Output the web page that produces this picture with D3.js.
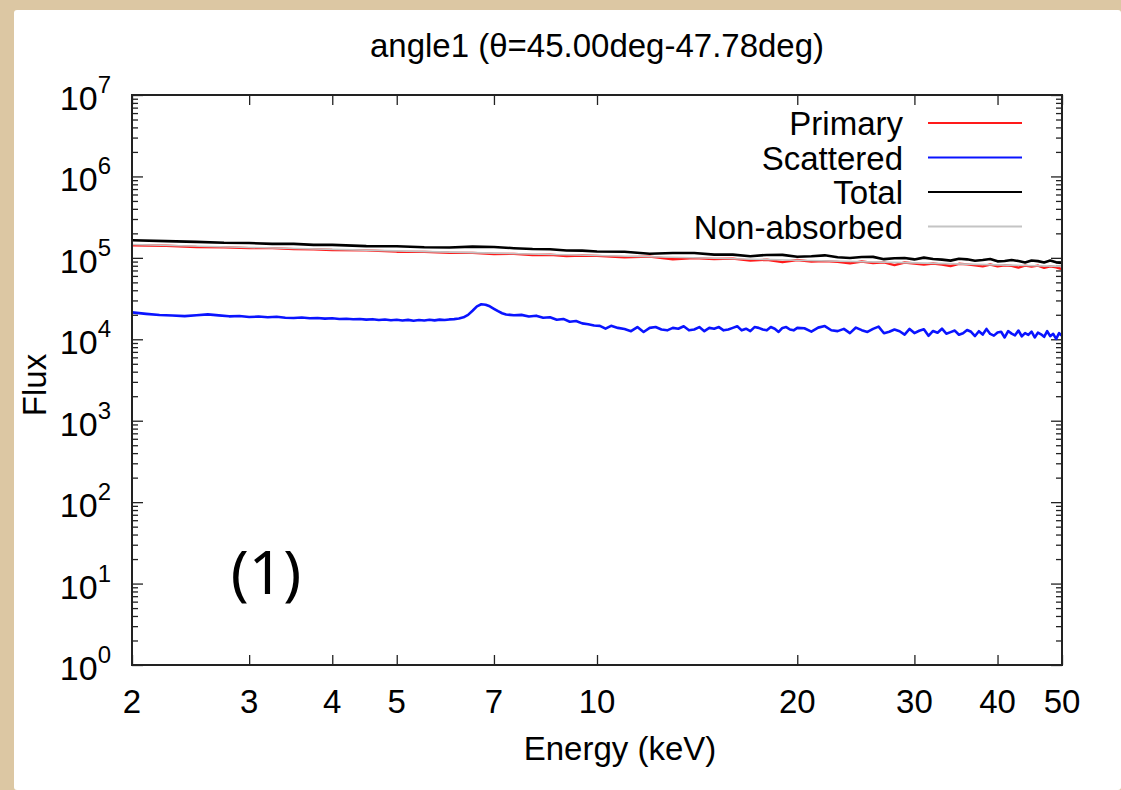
<!DOCTYPE html>
<html lang="en">
<head>
  <meta charset="UTF-8">
  <title>angle1</title>
  <style>
    body {
      margin: 0;
      padding: 0;
      background-color: #dcc7a3;
    }
    svg {
      display: block;
    }
    text {
      font-family: "Liberation Sans", Arial, Helvetica, sans-serif;
      fill: #000;
    }
  </style>
</head>
<body>
  <svg id="chart" width="1121" height="790"></svg>
  <script src="https://d3js.org/d3.v7.min.js"></script>
  <script>
    // tick values
    const xTickValues = [2, 3, 4, 5, 7, 10, 20, 30, 40, 50];
    const yExponents = [0, 1, 2, 3, 4, 5, 6, 7];

    const seriesNames = ['Primary', 'Scattered', 'Total', 'Non-absorbed'];
    const seriesColors = ['#ff1a1a', '#0a14ff', '#000000', '#c4c4c4'];

    // [energy keV, flux]
    const primary = [
      [2.0, 142900], [2.25, 140600], [2.5, 136100], [2.75, 135200], [3.0, 131800],
      [3.25, 131500], [3.5, 127900], [3.75, 127600], [4.0, 124700], [4.5, 123600],
      [5.0, 119100], [5.5, 118600], [6.0, 115300], [6.5, 115100], [7.0, 111700],
      [7.5, 111900], [8.0, 108400], [8.5, 109400], [9.0, 105400], [9.5, 106700],
      [10, 105900], [11, 101600], [12, 103500], [13, 96200], [14, 99300],
      [15, 97000], [16, 97900], [17, 92500], [18, 94800], [19, 88500],
      [20, 94000], [21, 89900], [22, 91200], [23, 89300], [24, 85700],
      [25, 90200], [26, 86500], [27, 87900], [28, 81500], [29, 87700],
      [30, 85100], [31, 82600], [32, 85100], [33, 82600], [34, 79400],
      [35, 84500], [36, 83200], [37, 80900], [38, 78500], [39, 82800],
      [40, 78700], [41, 81100], [42, 79800], [43, 75900], [44, 80200],
      [45, 78000], [46, 80400], [47, 75500], [48, 78700], [49, 76700],
      [50, 72900]
    ];

    const scattered = [
      [2.0, 21380], [2.1, 20510], [2.2, 19860], [2.3, 19590], [2.4, 19230],
      [2.5, 19770], [2.6, 20230], [2.7, 19680], [2.8, 19140], [2.9, 19320],
      [3.0, 18790], [3.1, 19010], [3.2, 18620], [3.3, 18880], [3.4, 18410],
      [3.5, 18280], [3.6, 18530], [3.7, 18110], [3.8, 18280], [3.9, 17950],
      [4.0, 18110], [4.1, 17740], [4.2, 17910], [4.3, 17620], [4.4, 17780],
      [4.5, 17420], [4.6, 17660], [4.7, 17220], [4.8, 17500], [4.9, 17100],
      [5.0, 17380], [5.1, 17020], [5.2, 17300], [5.3, 16900], [5.4, 17220],
      [5.5, 16980], [5.6, 17340], [5.7, 17060], [5.8, 17420], [5.9, 17220],
      [6.0, 17540], [6.1, 17700], [6.2, 17990], [6.3, 18620], [6.4, 19950],
      [6.5, 22390], [6.6, 25410], [6.7, 26920], [6.8, 26610], [6.9, 25410],
      [7.0, 23710], [7.1, 22130], [7.2, 20890], [7.3, 20180], [7.4, 19950],
      [7.5, 19720], [7.7, 19950], [7.9, 19050], [8.1, 19500], [8.3, 18410],
      [8.5, 18620], [8.7, 17380], [8.9, 17780], [9.1, 16410], [9.3, 16790],
      [9.5, 15670], [9.7, 15310], [9.9, 14790], [10.1, 14620], [10.3, 13490],
      [10.5, 14620], [10.75, 13800], [11.0, 13340], [11.25, 12590], [11.5, 14130],
      [11.75, 12300], [12.0, 13800], [12.25, 14130], [12.5, 13180], [12.75, 12880],
      [13.0, 13800], [13.25, 13490], [13.5, 14450], [13.75, 12880], [14.0, 13180],
      [14.25, 14130], [14.5, 12590], [14.75, 13800], [15.0, 13490], [15.25, 14130],
      [15.5, 12880], [15.75, 13180], [16.0, 13800], [16.25, 14450], [16.5, 12880],
      [16.75, 13490], [17.0, 12590], [17.25, 14130], [17.5, 13800], [17.75, 13180],
      [18.0, 12880], [18.25, 14130], [18.5, 13490], [18.75, 12300], [19.0, 13800],
      [19.25, 14130], [19.5, 13180], [19.75, 12880], [20.0, 13800], [20.5, 13650],
      [21.0, 12420], [21.5, 13900], [22.0, 14520], [22.5, 12910], [23.0, 12590],
      [23.5, 13430], [24.0, 11910], [24.5, 13930], [25.0, 12940], [25.5, 12300],
      [26.0, 13430], [26.5, 14320], [27.0, 11860], [27.5, 12360], [28.0, 13180],
      [28.5, 12560], [29.0, 11430], [29.5, 13400], [30.0, 11910], [30.5, 12740],
      [31.0, 13300], [31.5, 11040], [32.0, 12650], [32.5, 12050], [33.0, 13490],
      [33.5, 11720], [34.0, 12250], [34.5, 12790], [35.0, 11380], [35.5, 11890],
      [36.0, 13000], [36.5, 12360], [37.0, 10960], [37.5, 12560], [38.0, 11430],
      [38.5, 13400], [39.0, 11640], [39.5, 11090], [40.0, 12130], [40.5, 12390],
      [41.0, 10520], [41.5, 12620], [42.0, 11750], [42.5, 11190], [43.0, 12820],
      [43.5, 10890], [44.0, 11910], [44.5, 11350], [45.0, 12420], [45.5, 10540],
      [46.0, 12080], [46.5, 11510], [47.0, 10720], [47.5, 12560], [48.0, 10920],
      [48.5, 11670], [49.0, 10140], [49.5, 11890], [50.0, 11070]
    ];

    const total = [
      [2.0, 164400], [2.25, 160300], [2.5, 157000], [2.75, 153100], [3.0, 152100],
      [3.25, 148600], [3.5, 148300], [3.75, 144500], [4.0, 144200], [4.5, 139300],
      [5.0, 138700], [5.5, 134900], [6.0, 134300], [6.5, 137400], [7.0, 136100],
      [7.5, 131500], [8.0, 128200], [8.5, 127400], [9.0, 123000], [9.5, 122700],
      [10, 119700], [11, 118600], [12, 112500], [13, 114800], [14, 114600],
      [15, 109600], [16, 109600], [17, 104700], [18, 108600], [19, 108900],
      [20, 103000], [21, 104500], [22, 107400], [23, 101600], [24, 99500],
      [25, 102300], [26, 102800], [27, 96400], [28, 99100], [29, 99500],
      [30, 95700], [31, 100700], [32, 96800], [33, 95100], [34, 92500],
      [35, 97500], [36, 95900], [37, 92300], [38, 94000], [39, 96800],
      [40, 90600], [41, 91600], [42, 94000], [43, 91400], [44, 87900],
      [45, 92700], [46, 91200], [47, 87700], [48, 92500], [49, 88100],
      [50, 86700]
    ];

    const nonAbsorbed = [
      [2, 146200], [3, 134300], [5, 121900], [7, 114300], [10, 106700],
      [15, 98900], [20, 93500], [30, 86700], [40, 82000], [50, 78700]
    ];

    const margin = { top: 95, right: 59, bottom: 125, left: 132 };
    const W = 1121, H = 790;
    const plotRight = W - margin.right;
    const plotBottom = H - margin.bottom;

    const svg = d3.select('#chart');

    // white sheet
    svg.append('rect')
      .attr('x', 14)
      .attr('y', 10)
      .attr('width', W - 14)
      .attr('height', H - 10)
      .attr('rx', 3)
      .attr('fill', '#fff');

    const xScale = d3.scaleLog()
      .domain([2, 50])
      .range([margin.left, plotRight]);

    const yScale = d3.scaleLog()
      .domain([1, 1e7])
      .range([plotBottom, margin.top]);

    const yMajor = yExponents.map(e => Math.pow(10, e));
    const yMinor = [];
    yExponents.slice(0, -1).forEach(e => {
      for (let k = 2; k <= 9; k++) yMinor.push(k * Math.pow(10, e));
    });

    function tickAxis(axis, transform) {
      const g = svg.append('g')
        .attr('transform', transform)
        .call(axis);
      g.select('.domain').remove();
      g.selectAll('line').attr('stroke', '#222').attr('stroke-width', 1.3);
      g.selectAll('text').remove();
    }

    tickAxis(d3.axisBottom(xScale).tickValues(xTickValues).tickSize(-10), `translate(0,${plotBottom})`);
    tickAxis(d3.axisTop(xScale).tickValues(xTickValues).tickSize(-10), `translate(0,${margin.top})`);
    tickAxis(d3.axisLeft(yScale).tickValues(yMajor).tickSize(-11), `translate(${margin.left},0)`);
    tickAxis(d3.axisLeft(yScale).tickValues(yMinor).tickSize(-6), `translate(${margin.left},0)`);
    tickAxis(d3.axisRight(yScale).tickValues(yMajor).tickSize(-11), `translate(${plotRight},0)`);
    tickAxis(d3.axisRight(yScale).tickValues(yMinor).tickSize(-6), `translate(${plotRight},0)`);

    // clip
    svg.append('clipPath')
      .attr('id', 'plot-clip')
      .append('rect')
      .attr('x', margin.left)
      .attr('y', margin.top)
      .attr('width', plotRight - margin.left)
      .attr('height', plotBottom - margin.top);

    const line = d3.line()
      .x(d => xScale(d[0]))
      .y(d => yScale(d[1]));

    const seriesData = [primary, scattered, total, nonAbsorbed];
    const widths = [2.4, 2.6, 2.6, 1.6];
    const plotG = svg.append('g').attr('clip-path', 'url(#plot-clip)');
    seriesData.forEach((data, i) => {
      plotG.append('path')
        .datum(data)
        .attr('d', line)
        .attr('fill', 'none')
        .attr('stroke', seriesColors[i])
        .attr('stroke-width', widths[i])
        .attr('stroke-linejoin', 'round');
    });

    // frame
    svg.append('rect')
      .attr('x', margin.left)
      .attr('y', margin.top)
      .attr('width', plotRight - margin.left)
      .attr('height', plotBottom - margin.top)
      .attr('fill', 'none')
      .attr('stroke', '#222')
      .attr('stroke-width', 2);

    // x tick labels
    svg.selectAll('.x-label')
      .data(xTickValues)
      .enter()
      .append('text')
      .attr('class', 'x-label')
      .attr('x', d => xScale(d))
      .attr('y', plotBottom + 48)
      .attr('text-anchor', 'middle')
      .style('font-size', '33px')
      .text(d => d);

    // y tick labels 10^n
    const yLab = svg.selectAll('.y-label')
      .data(yExponents)
      .enter()
      .append('text')
      .attr('class', 'y-label')
      .attr('x', 111)
      .attr('y', d => yScale(Math.pow(10, d)) + 15)
      .attr('text-anchor', 'end')
      .style('font-size', '34px');
    yLab.append('tspan').text('10');
    yLab.append('tspan')
      .attr('dy', -17)
      .style('font-size', '24px')
      .text(d => d);

    // title
    svg.append('text')
      .attr('x', (margin.left + plotRight) / 2)
      .attr('y', 57)
      .attr('text-anchor', 'middle')
      .style('font-size', '33px')
      .text('angle1 (\u03b8=45.00deg-47.78deg)');

    // axis labels
    svg.append('text')
      .attr('x', 620)
      .attr('y', 760)
      .attr('text-anchor', 'middle')
      .style('font-size', '33px')
      .text('Energy (keV)');

    svg.append('text')
      .attr('transform', `translate(46, 385) rotate(-90)`)
      .attr('text-anchor', 'middle')
      .style('font-size', '33px')
      .text('Flux');

    // legend
    const legend = svg.append('g');
    seriesNames.forEach((name, i) => {
      const ly = 123 + i * 34.5;
      legend.append('text')
        .attr('x', 903)
        .attr('y', ly + 12)
        .attr('text-anchor', 'end')
        .style('font-size', '33px')
        .text(name);
      legend.append('line')
        .attr('x1', 928)
        .attr('x2', 1022)
        .attr('y1', ly)
        .attr('y2', ly)
        .attr('stroke', seriesColors[i])
        .attr('stroke-width', 2);
    });

    // panel tag
    svg.append('text')
      .attr('x', 266)
      .attr('y', 594)
      .attr('text-anchor', 'middle')
      .style('font-family', '"Noto Sans", "DejaVu Sans", sans-serif')
      .style('font-weight', '400')
      .style('font-size', '60px')
      .text('(1)');
  </script>
</body>
</html>
